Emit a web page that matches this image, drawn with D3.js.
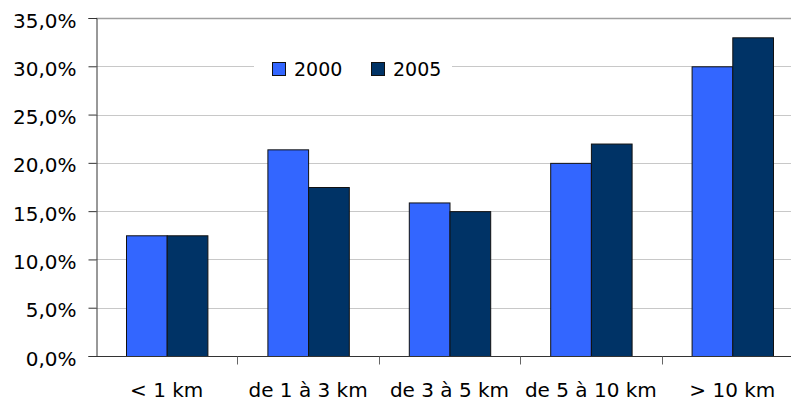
<!DOCTYPE html>
<html>
<head>
<meta charset="utf-8">
<script src="https://cdn.jsdelivr.net/npm/d3@7"></script>
<style>
	body { margin: 0; background: #fff; }
	svg { display: block; font-family: "DejaVu Sans", Verdana, sans-serif; }
</style>
</head>
<body>
<div id="chart"></div>
<script>
// distance classes and the two survey years
var categories = ['< 1 km', 'de 1 à 3 km', 'de 3 à 5 km', 'de 5 à 10 km', '> 10 km'];
var years = ['2000', '2005'];
var values2000 = [12.5, 21.4, 15.9, 20.0, 30.0];
var values2005 = [12.5, 17.5, 15.0, 22.0, 33.0];
var yTicks = [0, 5, 10, 15, 20, 25, 30, 35];
var colors = ['#3366ff', '#003366'];

var width = 791, height = 400;
// the plot runs past the right edge of the picture, as in the original
var margin = { left: 96, top: 18, right: -12, bottom: 44 };

var svg = d3.select('#chart').append('svg')
	.attr('width', width).attr('height', height);

var x = d3.scaleBand()
	.domain(categories)
	.range([margin.left, width - margin.right])
	.paddingInner(0)
	.paddingOuter(0);

var x1 = d3.scaleBand()
	.domain(years)
	.range([30, x.bandwidth() - 30]);

var y = d3.scaleLinear()
	.domain([0, 35])
	.range([height - margin.bottom, margin.top]);

var fmt = function(d) { return d3.format('.1f')(d).replace('.', ',') + '%'; };

// horizontal gridlines
svg.append('g').selectAll('line')
	.data(yTicks)
	.enter().append('line')
	.attr('x1', margin.left).attr('x2', width)
	.attr('y1', function(d) { return Math.round(y(d)) + 0.5; })
	.attr('y2', function(d) { return Math.round(y(d)) + 0.5; })
	.attr('stroke', function(d) { return d === 35 ? '#a0a0a0' : '#c8c8c8'; })
	.attr('stroke-width', function(d) { return d === 35 ? 1.5 : 1; });

// bars
var rows = categories.map(function(c, i) {
	return { cat: c, vals: [values2000[i], values2005[i]] };
});

var groups = svg.append('g').selectAll('g')
	.data(rows)
	.enter().append('g')
	.attr('transform', function(d) { return 'translate(' + x(d.cat) + ',0)'; });

groups.selectAll('rect')
	.data(function(d) { return d.vals.map(function(v, j) { return { year: years[j], v: v, j: j }; }); })
	.enter().append('rect')
	.attr('x', function(d) { return x1(d.year) + 0.5; })
	.attr('y', function(d) { return y(d.v) + 0.5; })
	.attr('width', x1.bandwidth())
	.attr('height', function(d) { return y(0) - y(d.v); })
	.attr('fill', function(d) { return colors[d.j]; })
	.attr('stroke', '#111')
	.attr('stroke-width', 1);

// y axis
var yAxis = svg.append('g')
	.attr('transform', 'translate(' + (margin.left + 0.5) + ',0)')
	.call(d3.axisLeft(y).tickValues(yTicks).tickFormat(fmt).tickSize(8).tickPadding(12));

// x axis: ticks sit on the category boundaries
var xAxis = svg.append('g')
	.attr('transform', 'translate(0,' + (Math.round(y(0)) + 0.5) + ')');
xAxis.append('line')
	.attr('x1', margin.left).attr('x2', width)
	.attr('stroke', '#333');
xAxis.selectAll('line.tick')
	.data(categories.slice(1))
	.enter().append('line')
	.attr('class', 'tick')
	.attr('x1', function(d) { return Math.round(x(d)) + 0.5; })
	.attr('x2', function(d) { return Math.round(x(d)) + 0.5; })
	.attr('y1', 0).attr('y2', 8)
	.attr('stroke', '#666');
xAxis.selectAll('text')
	.data(categories)
	.enter().append('text')
	.attr('x', function(d) { return x(d) + x.bandwidth() / 2; })
	.attr('y', 40)
	.attr('text-anchor', 'middle')
	.attr('font-size', 20)
	.attr('fill', '#000')
	.text(function(d) { return d; });

yAxis.select('.domain').attr('stroke', '#333');
yAxis.selectAll('.tick line').attr('stroke', '#333');
yAxis.selectAll('.tick text')
	.attr('font-size', 20)
	.attr('font-family', '"DejaVu Sans", Verdana, sans-serif')
	.attr('fill', '#000')
	.attr('dy', '0.45em');

// legend, on a white box over the 30% gridline
var legend = svg.append('g').attr('transform', 'translate(254,56)');
legend.append('rect')
	.attr('width', 198).attr('height', 26)
	.attr('fill', '#fff');
var items = legend.selectAll('g')
	.data(years)
	.enter().append('g')
	.attr('transform', function(d, i) { return 'translate(' + (18 + i * 99) + ',0)'; });
items.append('rect')
	.attr('x', 0.5).attr('y', 6.5)
	.attr('width', 13).attr('height', 13)
	.attr('fill', function(d, i) { return colors[i]; })
	.attr('stroke', '#111');
items.append('text')
	.attr('x', 22).attr('y', 20)
	.attr('font-size', 19)
	.text(function(d) { return d; });
</script>
</body>
</html>
